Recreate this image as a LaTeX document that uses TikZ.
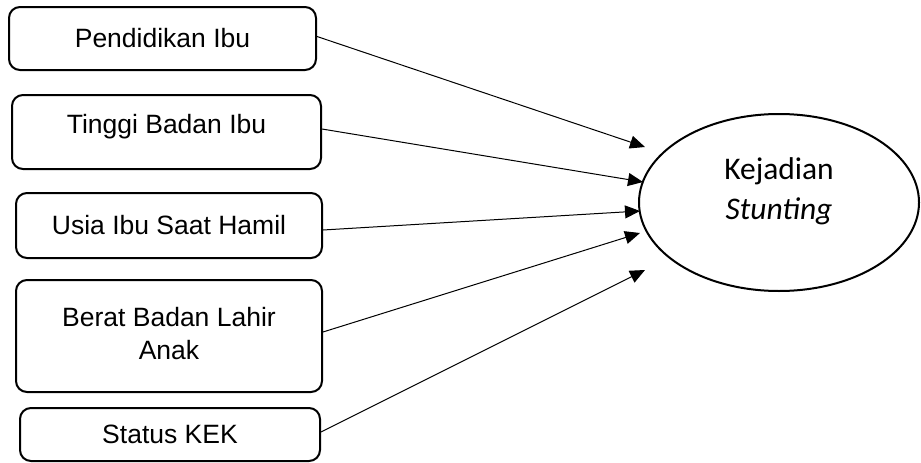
\documentclass[tikz,border=0pt]{standalone}
\usepackage{fontspec}
\setmainfont{Liberation Sans}
\newfontfamily\calfont{Carlito}
\usetikzlibrary{arrows.meta,shapes.geometric}
\begin{document}
\begin{tikzpicture}[x=1pt,y=-1pt,
  box/.style={draw, line width=2pt, rounded corners=11pt, align=center, inner sep=0pt,
    font=\fontsize{26.5}{33}\selectfont},
  conn/.style={line width=1pt, -{Triangle[length=15pt,width=13pt]}}]
\useasboundingbox (0,0) rectangle (921,463);
\node[box, minimum width=307pt, minimum height=63pt] (b1) at (162.5,38.5) {Pendidikan Ibu};
\node[box, minimum width=309pt, minimum height=74pt] (b2) at (166.5,132) {\raisebox{16pt}{Tinggi Badan Ibu}};
\node[box, minimum width=306pt, minimum height=65pt] (b3) at (169,225.5) {Usia Ibu Saat Hamil};
\node[box, minimum width=306pt, minimum height=112pt] (b4) at (169,336) {\raisebox{3pt}{\begin{tabular}{@{}c@{}}Berat Badan Lahir\\Anak\end{tabular}}};
\node[box, minimum width=300pt, minimum height=53pt] (b5) at (170,434.5) {\raisebox{-7pt}{Status KEK}};
\node[draw, line width=2pt, ellipse, minimum width=280pt, minimum height=177pt, inner sep=0pt,
  label={[yshift=11pt, inner sep=0pt, align=center, font=\calfont\fontsize{31.5}{40}\selectfont]center:Kejadian\\\textit{Stunting}}]
  (e) at (779,202.5) {};
\coordinate (t1) at (645,147);
\coordinate (t2) at (643,182);
\coordinate (t3) at (640,211);
\coordinate (t4) at (640,233);
\coordinate (t5) at (645,270);
\draw[conn] ([yshift=2pt]b1.east) -- (t1);
\draw[conn] ([yshift=3pt]b2.east) -- (t2);
\draw[conn] ([yshift=-4.5pt]b3.east) -- (t3);
\draw[conn] ([yshift=4pt]b4.east) -- (t4);
\draw[conn] ([yshift=2.5pt]b5.east) -- (t5);
\end{tikzpicture}
\end{document}
